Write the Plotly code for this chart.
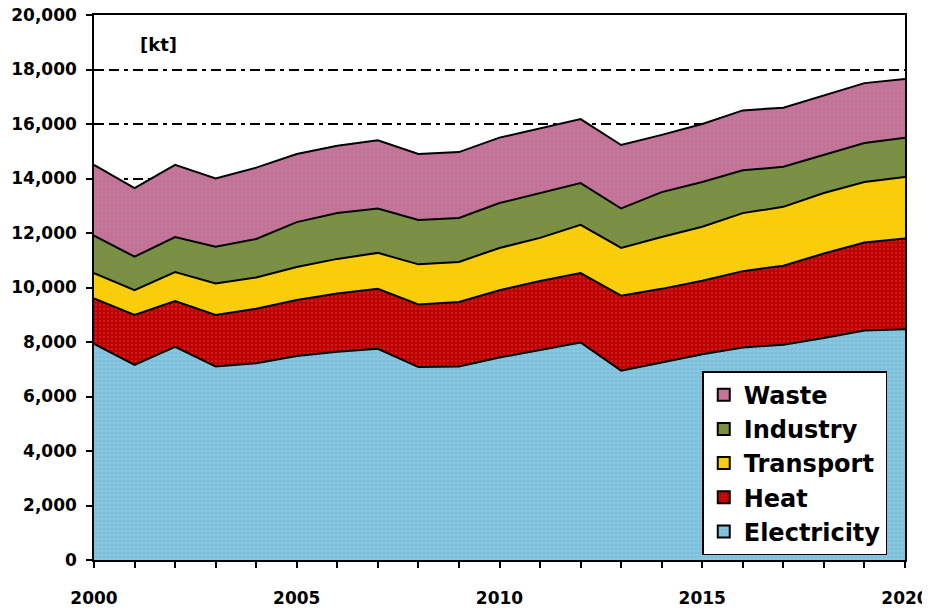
import plotly.graph_objects as go

# years on the x axis
years = list(range(2000, 2021))

# emissions per sector in kt
electricity = [7930, 7160, 7820, 7100, 7220, 7490, 7640, 7750, 7080, 7100, 7430,
               7700, 7980, 6950, 7250, 7550, 7800, 7900, 8150, 8420, 8470]
heat = [1670, 1830, 1680, 1890, 2000, 2050, 2140, 2200, 2300, 2370, 2470,
        2540, 2550, 2750, 2700, 2700, 2800, 2900, 3100, 3230, 3330]
transport = [930, 910, 1070, 1160, 1150, 1210, 1270, 1320, 1470, 1470, 1550,
             1580, 1770, 1750, 1900, 1980, 2130, 2160, 2220, 2220, 2260]
industry = [1370, 1230, 1280, 1350, 1410, 1650, 1680, 1630, 1630, 1610, 1650,
            1650, 1530, 1450, 1650, 1640, 1570, 1470, 1390, 1430, 1440]
waste = [2600, 2520, 2650, 2500, 2620, 2500, 2470, 2500, 2420, 2420, 2400,
         2380, 2350, 2330, 2100, 2130, 2200, 2170, 2190, 2200, 2150]

series = [
    ("Electricity", electricity, "#86c7dd", "#6fa8e0"),
    ("Heat", heat, "#c00000", "#d04040"),
    ("Transport", transport, "#ffcc00", "#d8d040"),
    ("Industry", industry, "#77933c", "#8a7a6a"),
    ("Waste", waste, "#c8729c", "#a08080"),
]

FONT = "DejaVu Sans"

fig = go.Figure()
for name, vals, bg, fg in series:
    pattern = dict(shape=".", bgcolor=bg, fgcolor=fg, size=4, solidity=0.25)
    fig.add_trace(go.Scatter(
        x=years, y=vals, name=name, mode="lines", stackgroup="one",
        line=dict(color="black", width=2),
        fillcolor=bg, fillpattern=pattern, showlegend=False,
    ))
    # square swatch for the legend only
    fig.add_trace(go.Bar(
        x=[None], y=[None], name=name,
        marker=dict(color=bg, line=dict(color="black", width=1.5), pattern=pattern),
    ))

fig.add_annotation(text="[kt]", x=0.080, y=0.945, xref="paper", yref="paper",
                   xanchor="center", yanchor="middle", showarrow=False,
                   font=dict(family=FONT, size=18, color="black", weight="bold"))

# page body has an 8px margin, so the figure is shifted by 8px in the window
fig.update_layout(
    width=922, height=605,
    margin=dict(l=86, r=25, t=7, b=53),
    plot_bgcolor="white", paper_bgcolor="white",
    font=dict(family=FONT, size=17, color="black", weight="bold"),
    showlegend=True,
    legend=dict(
        traceorder="reversed",
        x=0.750, y=0.009, xanchor="left", yanchor="bottom",
        bgcolor="white", bordercolor="black", borderwidth=1.5,
        font=dict(family=FONT, size=24, color="black", weight="bold"),
        itemsizing="constant", tracegroupgap=0, itemwidth=30,
    ),
    xaxis=dict(
        range=[2000, 2020], tickmode="linear", tick0=2000, dtick=5,
        ticks="outside", ticklen=6, tickcolor="black", tickwidth=1.5,
        minor=dict(dtick=1, ticks="outside", ticklen=6, tickcolor="black", tickwidth=1.5),
        showline=True, linecolor="black", linewidth=1.5, mirror=True,
        showgrid=False, zeroline=False, ticklabelstandoff=16, automargin=False,
        ticklabeloverflow="allow",
    ),
    yaxis=dict(
        range=[0, 20000], tickmode="linear", tick0=0, dtick=2000, tickformat=",",
        ticks="outside", ticklen=6, tickcolor="black", tickwidth=1.5,
        showline=True, linecolor="black", linewidth=1.5, mirror=True,
        showgrid=True, gridcolor="black", gridwidth=1.5,
        griddash="10px,5px,10px,5px,4px,5px",
        zeroline=False, ticklabelstandoff=6, automargin=False,
        ticklabeloverflow="allow",
    ),
)

fig.write_html("out.html")
